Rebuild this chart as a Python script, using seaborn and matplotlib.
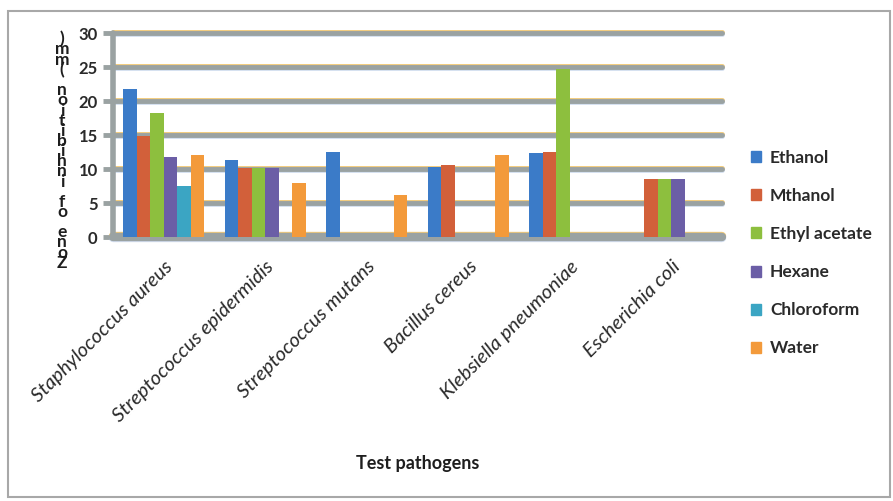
import numpy as np
import pandas as pd
import matplotlib
matplotlib.use("Agg")
import matplotlib.pyplot as plt
import matplotlib.patheffects as pe
from matplotlib.patches import Rectangle
import seaborn as sns

# Zone of inhibition (mm) per solvent extract and pathogen (NaN = no zone)
pathogens = ["Staphylococcus aureus", "Streptococcus epidermidis", "Streptococcus mutans",
             "Bacillus cereus", "Klebsiella pneumoniae", "Escherichia coli"]
solvents = ["Ethanol", "Mthanol", "Ethyl acetate", "Hexane", "Chloroform", "Water"]
ethanol = [21.7, 11.3, 12.5, 10.3, 12.3, np.nan]
mthanol = [14.9, 10.1, np.nan, 10.6, 12.5, 8.5]
ethyl_acetate = [18.3, 10.1, np.nan, np.nan, 24.7, 8.5]
hexane = [11.8, 10.1, np.nan, np.nan, np.nan, 8.5]
chloroform = [7.5, np.nan, np.nan, np.nan, np.nan, np.nan]
water = [12.0, 8.0, 6.2, 12.0, np.nan, np.nan]
y_ticks = [0, 5, 10, 15, 20, 25, 30]
y_title = "Zone of inhibition (mm)"
x_title = "Test pathogens"

colors = ["#3b7bc8", "#d2603a", "#8dbf3e", "#6b5ea6", "#3ba5c3", "#f39a3b"]
grid_gray = "#9aa2a2"

series = [ethanol, mthanol, ethyl_acetate, hexane, chloroform, water]
rows = []
for solvent, values in zip(solvents, series):
    for pathogen, v in zip(pathogens, values):
        rows.append({"pathogen": pathogen, "solvent": solvent, "zone": v})
df = pd.DataFrame(rows).dropna()

sns.set_theme(style="white")
plt.rcParams["font.family"] = ["Lato", "DejaVu Sans"]

fig = plt.figure(figsize=(8.93, 5.01), dpi=100)
ax = fig.add_axes([113 / 893, 1 - 237 / 501, (722 - 113) / 893, (237 - 33) / 501])

sns.barplot(data=df, x="pathogen", y="zone", hue="solvent", order=pathogens,
            hue_order=solvents, palette=colors, saturation=1, width=0.8,
            errorbar=None, ax=ax, zorder=3, legend=False, linewidth=0)

ax.set_xlim(-0.5, 5.5)
ax.set_ylim(0, 30)
for s in ax.spines.values():
    s.set_visible(False)

# thick grey gridlines with a warm upper fringe and cool lower fringe
fringe = [pe.SimpleLineShadow(offset=(0, 1.0), shadow_color="#f0c46a", alpha=0.9),
          pe.SimpleLineShadow(offset=(0, -0.8), shadow_color="#a9bfe0", alpha=0.5),
          pe.Normal()]
for y in y_ticks:
    ax.axhline(y, color=grid_gray, lw=6 if y == 0 else 3.5, zorder=1,
               clip_on=False, path_effects=fringe)
ax.axvline(-0.5, color=grid_gray, lw=4, zorder=1, clip_on=False)

ax.set_yticks(y_ticks)
ax.set_yticklabels([str(t) for t in y_ticks], fontsize=12, fontweight="bold", color="#2a2a2a")
ax.tick_params(axis="y", left=True, length=7, width=3.5, color=grid_gray, pad=4)

ax.set_xticks(range(len(pathogens)))
ax.set_xticklabels(pathogens, rotation=45, ha="right", rotation_mode="anchor",
                   style="italic", fontsize=14.5, color="#2a2a2a")
ax.tick_params(axis="x", bottom=False, length=0, pad=15)
ax.set_xlabel("")
ax.set_ylabel("")

# stacked y-axis title
fig.text(62 / 893, 1 - 31 / 501, "\n".join(reversed(y_title)), ha="center", va="top",
         fontsize=12.5, fontweight="bold", linespacing=0.55, color="#1e1e1e")

fig.text(418 / 893, 1 - 463 / 501, x_title, ha="center", va="center",
         fontsize=13, fontweight="bold", color="#1e1e1e")

handles = [Rectangle((0, 0), 1, 1, color=c) for c in colors]
fig.legend(handles, solvents, loc="upper left", bbox_to_anchor=(751 / 893, 1 - 150 / 501),
           frameon=False, prop={"size": 12.5, "weight": "bold"}, handlelength=0.6,
           handleheight=0.6, handletextpad=0.5, labelspacing=1.27, borderpad=0,
           borderaxespad=0, labelcolor="#2a2a2a")

fig.add_artist(Rectangle((8 / 893, 1 - 497 / 501), (890 - 8) / 893, (497 - 11) / 501,
                         transform=fig.transFigure, fill=False, edgecolor="#a8a8a8", lw=1.5))

fig.savefig("out.png", dpi=100)
